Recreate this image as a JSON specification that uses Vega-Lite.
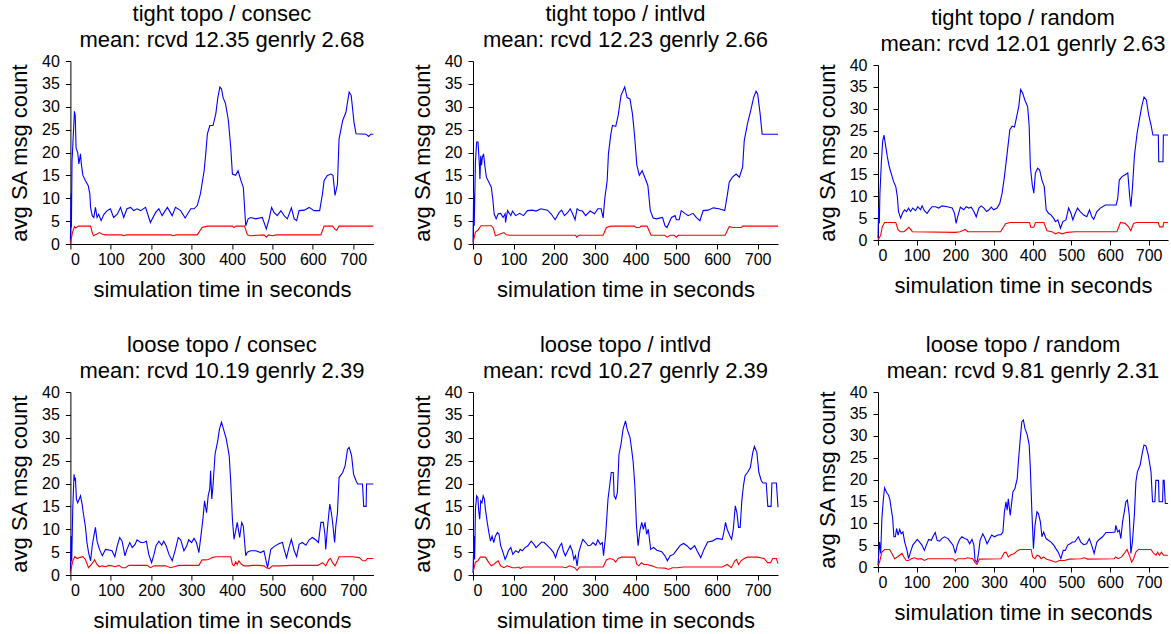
{
"$schema":"https://vega.github.io/schema/vega-lite/v6.json",
"padding":{"left":8,"top":3,"right":5,"bottom":5},
"columns":3,
"align":"each",
"spacing":{"row":34,"column":35},
"center":true,
"config":{
 "view":{"stroke":null},
 "font":"Liberation Sans",
 "title":{"fontSize":22,"fontWeight":"normal","color":"black","lineHeight":26,"offset":1,"frame":"group","anchor":"middle","font":"Liberation Sans"},
 "axis":{"grid":false,"domainColor":"black","tickColor":"black","labelColor":"black","titleColor":"black","labelFontSize":16,"titleFontSize":22,"titleFontWeight":"normal","tickSize":5,"domainWidth":1,"tickWidth":1,"labelFont":"Liberation Sans","titleFont":"Liberation Sans"},
 "axisX":{"labelPadding":2,"titlePadding":12},
 "axisY":{"labelPadding":6,"titlePadding":10}
},
"datasets":{
"p1r":[{"t":0,"v":0.5},{"t":1.5,"v":11},{"t":2.5,"v":3.6},{"t":4,"v":18},{"t":10,"v":29},{"t":12,"v":28},{"t":14,"v":21},{"t":18,"v":20},{"t":21,"v":17.5},{"t":25,"v":19.7},{"t":27,"v":17.5},{"t":31,"v":15},{"t":37,"v":13.9},{"t":44,"v":12.8},{"t":48,"v":11},{"t":50,"v":8},{"t":54,"v":6.2},{"t":58,"v":5.8},{"t":62,"v":8},{"t":66,"v":5.8},{"t":70,"v":6.5},{"t":76,"v":5.1},{"t":83,"v":6.5},{"t":91,"v":7.3},{"t":99,"v":7.7},{"t":107,"v":5.8},{"t":116,"v":6.5},{"t":124,"v":8},{"t":132,"v":5.8},{"t":140,"v":7.7},{"t":149,"v":8},{"t":157,"v":7.3},{"t":165,"v":7.7},{"t":174,"v":7.3},{"t":186,"v":8},{"t":198,"v":4.7},{"t":211,"v":6.9},{"t":219,"v":7.7},{"t":227,"v":6.2},{"t":240,"v":8},{"t":252,"v":6.2},{"t":260,"v":8},{"t":273,"v":7.3},{"t":284,"v":5.7},{"t":298,"v":7.7},{"t":306,"v":7.7},{"t":314,"v":8.4},{"t":322,"v":11},{"t":331,"v":16},{"t":335,"v":19.7},{"t":339,"v":24},{"t":345,"v":25.9},{"t":353,"v":25.9},{"t":360,"v":28.5},{"t":365,"v":32},{"t":370,"v":34.3},{"t":374,"v":33.9},{"t":378,"v":32},{"t":384,"v":30.7},{"t":391,"v":27},{"t":397,"v":21},{"t":401,"v":15.3},{"t":409,"v":15},{"t":415,"v":16},{"t":422,"v":13.9},{"t":428,"v":12.4},{"t":434,"v":4},{"t":440,"v":5.5},{"t":446,"v":5.8},{"t":459,"v":5.5},{"t":475,"v":5.8},{"t":485,"v":3.3},{"t":492,"v":5.5},{"t":498,"v":8},{"t":504,"v":6.9},{"t":512,"v":6.2},{"t":521,"v":7.3},{"t":529,"v":6.2},{"t":537,"v":5.5},{"t":547,"v":7.9},{"t":554,"v":5.5},{"t":560,"v":5.1},{"t":566,"v":7.3},{"t":579,"v":7.4},{"t":591,"v":8},{"t":603,"v":7.3},{"t":617,"v":7.3},{"t":624,"v":11},{"t":628,"v":13.9},{"t":636,"v":15},{"t":645,"v":15.3},{"t":650,"v":15},{"t":655,"v":10.6},{"t":661,"v":13.1},{"t":665,"v":23},{"t":674,"v":27},{"t":682,"v":28.8},{"t":690,"v":33.2},{"t":695,"v":32.5},{"t":702,"v":26.6},{"t":707,"v":24.1},{"t":732,"v":24},{"t":738,"v":23.5},{"t":744,"v":24},{"t":750,"v":24}],
"p1g":[{"t":0,"v":0},{"t":5,"v":2.5},{"t":10,"v":3.8},{"t":13,"v":3.5},{"t":20,"v":3.9},{"t":50,"v":3.9},{"t":54,"v":2.5},{"t":57,"v":1.8},{"t":66,"v":2.2},{"t":72,"v":2.5},{"t":78,"v":2.2},{"t":87,"v":2},{"t":128,"v":2},{"t":130,"v":1.8},{"t":140,"v":2},{"t":250,"v":2},{"t":252,"v":1.8},{"t":262,"v":2},{"t":314,"v":2},{"t":326,"v":3.6},{"t":339,"v":3.9},{"t":401,"v":3.9},{"t":405,"v":3.6},{"t":410,"v":3.9},{"t":431,"v":3.9},{"t":438,"v":2},{"t":445,"v":1.8},{"t":479,"v":2},{"t":485,"v":1.5},{"t":490,"v":2},{"t":500,"v":1.8},{"t":510,"v":2},{"t":620,"v":2},{"t":628,"v":3.9},{"t":649,"v":3.9},{"t":655,"v":3.2},{"t":659,"v":3},{"t":665,"v":3.9},{"t":750,"v":3.9}],
"p2r":[{"t":0,"v":0.4},{"t":1.5,"v":11},{"t":3,"v":4},{"t":6,"v":18},{"t":9,"v":22.3},{"t":12.4,"v":22.3},{"t":16,"v":16.8},{"t":17,"v":14.2},{"t":19,"v":19.3},{"t":21,"v":17.2},{"t":23,"v":19},{"t":26,"v":19.7},{"t":29,"v":17.2},{"t":33,"v":14.6},{"t":39,"v":13.5},{"t":45,"v":12.4},{"t":49,"v":9.5},{"t":52,"v":6.6},{"t":57,"v":5.5},{"t":62,"v":6.6},{"t":68,"v":6.7},{"t":74,"v":5.8},{"t":79,"v":6.6},{"t":80,"v":4.7},{"t":85,"v":7.3},{"t":93,"v":6.2},{"t":97,"v":7.2},{"t":105,"v":6.2},{"t":115,"v":6.7},{"t":124,"v":6.2},{"t":134,"v":7.3},{"t":146,"v":7.4},{"t":155,"v":7.2},{"t":167,"v":7.7},{"t":183,"v":7.4},{"t":192,"v":6.6},{"t":202,"v":5.3},{"t":212,"v":6.9},{"t":218,"v":7.4},{"t":225,"v":6.2},{"t":233,"v":6.9},{"t":239,"v":7.7},{"t":245,"v":6.6},{"t":251,"v":5.3},{"t":256,"v":7.7},{"t":262,"v":7.3},{"t":269,"v":7.2},{"t":277,"v":6.2},{"t":288,"v":7.2},{"t":299,"v":6.6},{"t":307,"v":7.7},{"t":315,"v":7.7},{"t":320,"v":5.7},{"t":324,"v":9.9},{"t":330,"v":13.9},{"t":333,"v":19.7},{"t":339,"v":24},{"t":343,"v":25.9},{"t":351,"v":25.7},{"t":357,"v":28.1},{"t":364,"v":32.5},{"t":373,"v":34.3},{"t":379,"v":32},{"t":386,"v":31.7},{"t":392,"v":28.5},{"t":397,"v":24},{"t":403,"v":17.2},{"t":409,"v":15},{"t":416,"v":16},{"t":424,"v":14.2},{"t":430,"v":12.8},{"t":436,"v":7.3},{"t":443,"v":5.7},{"t":451,"v":5.5},{"t":466,"v":5.8},{"t":472,"v":4},{"t":477,"v":3.6},{"t":488,"v":5.8},{"t":497,"v":6.2},{"t":500,"v":5.3},{"t":507,"v":5.3},{"t":512,"v":7.3},{"t":521,"v":6.7},{"t":529,"v":6.2},{"t":541,"v":6.7},{"t":549,"v":5.8},{"t":558,"v":5.1},{"t":566,"v":7.3},{"t":578,"v":7.4},{"t":591,"v":7.9},{"t":605,"v":7.7},{"t":619,"v":7.3},{"t":626,"v":11},{"t":630,"v":13.5},{"t":638,"v":14.6},{"t":647,"v":15.3},{"t":655,"v":14.6},{"t":663,"v":16.8},{"t":667,"v":22.6},{"t":675,"v":26.3},{"t":683,"v":29.2},{"t":690,"v":32},{"t":696,"v":33.4},{"t":700,"v":32.8},{"t":706,"v":28.5},{"t":711,"v":24},{"t":750,"v":24}],
"p2g":[{"t":0,"v":0},{"t":3,"v":1.5},{"t":6,"v":2.6},{"t":12,"v":3},{"t":18,"v":3.8},{"t":20,"v":4},{"t":45,"v":4},{"t":50,"v":3.5},{"t":55,"v":1.8},{"t":62,"v":2},{"t":70,"v":2.3},{"t":76,"v":2.5},{"t":82,"v":2},{"t":90,"v":1.9},{"t":252,"v":1.9},{"t":255,"v":1.5},{"t":260,"v":1.9},{"t":320,"v":1.9},{"t":328,"v":3.6},{"t":340,"v":3.9},{"t":397,"v":3.9},{"t":401,"v":3.6},{"t":410,"v":3.6},{"t":413,"v":3.9},{"t":428,"v":3.9},{"t":438,"v":1.9},{"t":471,"v":1.9},{"t":477,"v":1.5},{"t":485,"v":1.9},{"t":495,"v":1.9},{"t":500,"v":1.5},{"t":505,"v":1.9},{"t":620,"v":1.9},{"t":630,"v":3.8},{"t":640,"v":3.6},{"t":660,"v":3.6},{"t":663,"v":3.9},{"t":750,"v":3.9}],
"p3r":[{"t":0,"v":0.4},{"t":1.7,"v":7.3},{"t":3.4,"v":3.8},{"t":5,"v":10.7},{"t":8.6,"v":17.6},{"t":12,"v":22.5},{"t":15.5,"v":24},{"t":20,"v":21.4},{"t":24,"v":19.1},{"t":29,"v":16.8},{"t":34,"v":15.3},{"t":40,"v":13.4},{"t":46,"v":12.2},{"t":50,"v":9.9},{"t":53,"v":6.5},{"t":58.5,"v":5},{"t":64,"v":6.3},{"t":69,"v":6.9},{"t":74,"v":6.5},{"t":79,"v":7.3},{"t":84,"v":6.5},{"t":90,"v":7.3},{"t":97,"v":6.7},{"t":103,"v":7.6},{"t":110,"v":6.9},{"t":114,"v":7.8},{"t":120,"v":6.7},{"t":127,"v":6.1},{"t":134,"v":7},{"t":140,"v":7.6},{"t":149,"v":7.6},{"t":157,"v":7.3},{"t":166,"v":7.8},{"t":179,"v":7.6},{"t":192,"v":7.3},{"t":198,"v":6.1},{"t":202,"v":3.8},{"t":206,"v":5.3},{"t":213,"v":7.5},{"t":222,"v":6.9},{"t":228,"v":7.6},{"t":235,"v":7.3},{"t":241,"v":7.5},{"t":248,"v":6.5},{"t":254,"v":5.3},{"t":261,"v":7.3},{"t":267,"v":7.8},{"t":274,"v":7.3},{"t":281,"v":6.5},{"t":287,"v":6.9},{"t":293,"v":7.5},{"t":299,"v":6.9},{"t":308,"v":7.3},{"t":315,"v":8.4},{"t":321,"v":10.7},{"t":327,"v":14.5},{"t":334,"v":19.8},{"t":341,"v":25.2},{"t":347,"v":26},{"t":353,"v":25.8},{"t":358,"v":27.9},{"t":364,"v":30.5},{"t":369,"v":34.4},{"t":374,"v":33.6},{"t":381,"v":31.7},{"t":387,"v":30.5},{"t":391,"v":26},{"t":394,"v":16.8},{"t":399,"v":12.6},{"t":403,"v":10.7},{"t":407,"v":15.3},{"t":413,"v":16.4},{"t":418,"v":16},{"t":424,"v":13.7},{"t":430,"v":12.2},{"t":435,"v":6.9},{"t":441,"v":6.1},{"t":448,"v":5.7},{"t":454,"v":5},{"t":459,"v":4.2},{"t":465,"v":4.6},{"t":472,"v":2.7},{"t":478,"v":4.2},{"t":486,"v":4.6},{"t":493,"v":7.3},{"t":499,"v":6.1},{"t":504,"v":4.6},{"t":510,"v":6.1},{"t":516,"v":7.3},{"t":523,"v":6.5},{"t":532,"v":5.7},{"t":540,"v":5.3},{"t":547,"v":6.9},{"t":553,"v":5.3},{"t":558,"v":4.7},{"t":566,"v":6.5},{"t":575,"v":7.3},{"t":588,"v":8},{"t":601,"v":8},{"t":616,"v":8},{"t":620,"v":9.5},{"t":624,"v":13.7},{"t":631,"v":14.5},{"t":639,"v":14.9},{"t":646,"v":15.3},{"t":651,"v":9.9},{"t":654,"v":7.6},{"t":658,"v":11.8},{"t":663,"v":19.1},{"t":670,"v":24.4},{"t":676,"v":27.5},{"t":682,"v":30.5},{"t":688,"v":32.7},{"t":694,"v":32},{"t":700,"v":28.6},{"t":706,"v":26.3},{"t":711,"v":24},{"t":725,"v":24},{"t":726,"v":17.9},{"t":737,"v":17.9},{"t":738,"v":24},{"t":750,"v":24}],
"p3g":[{"t":0,"v":0},{"t":7,"v":1.1},{"t":11,"v":3},{"t":17,"v":4},{"t":46,"v":4},{"t":52,"v":2.3},{"t":58,"v":1.9},{"t":67,"v":1.9},{"t":74,"v":2.4},{"t":80,"v":2.9},{"t":89,"v":1.9},{"t":200,"v":1.75},{"t":212,"v":1.9},{"t":226,"v":2.4},{"t":232,"v":1.9},{"t":317,"v":1.9},{"t":330,"v":3.7},{"t":342,"v":4},{"t":392,"v":4},{"t":395,"v":2.9},{"t":403,"v":2.9},{"t":407,"v":4},{"t":429,"v":4},{"t":437,"v":2.1},{"t":450,"v":1.9},{"t":459,"v":1.4},{"t":467,"v":1.7},{"t":476,"v":1.4},{"t":489,"v":1.75},{"t":510,"v":1.9},{"t":618,"v":1.9},{"t":627,"v":4},{"t":639,"v":3.8},{"t":648,"v":3},{"t":654,"v":2.1},{"t":661,"v":3.8},{"t":668,"v":4},{"t":725,"v":4},{"t":728,"v":3},{"t":737,"v":3},{"t":739,"v":4},{"t":750,"v":4}],
"p4r":[{"t":0,"v":0.5},{"t":1.7,"v":8.5},{"t":3.3,"v":3.1},{"t":5.8,"v":14.4},{"t":9,"v":22},{"t":10.7,"v":20.6},{"t":12.4,"v":21.3},{"t":14.9,"v":16.6},{"t":18,"v":15.8},{"t":22,"v":16.6},{"t":25,"v":17.3},{"t":29,"v":15.5},{"t":33,"v":12.9},{"t":37,"v":10.7},{"t":41,"v":7.1},{"t":45,"v":4.9},{"t":50,"v":3.1},{"t":54,"v":6.4},{"t":58,"v":8.5},{"t":62,"v":10.4},{"t":66,"v":7.4},{"t":72,"v":5.6},{"t":79,"v":4.2},{"t":83,"v":4.9},{"t":87,"v":5.6},{"t":93,"v":5.5},{"t":103,"v":5.3},{"t":110,"v":4},{"t":116,"v":6.4},{"t":122,"v":8.2},{"t":128,"v":7.4},{"t":135,"v":4.2},{"t":140,"v":5.6},{"t":147,"v":7.1},{"t":153,"v":6},{"t":160,"v":6.7},{"t":165,"v":7.7},{"t":174,"v":7.1},{"t":182,"v":7.1},{"t":188,"v":7.4},{"t":194,"v":4.5},{"t":201,"v":2.7},{"t":207,"v":4.5},{"t":212,"v":6.4},{"t":219,"v":7.4},{"t":226,"v":6.5},{"t":231,"v":7.4},{"t":237,"v":6.4},{"t":244,"v":4.5},{"t":252,"v":3.1},{"t":260,"v":5.6},{"t":267,"v":8.2},{"t":273,"v":7.7},{"t":281,"v":5.3},{"t":288,"v":6.4},{"t":293,"v":7.7},{"t":300,"v":7.1},{"t":306,"v":8},{"t":312,"v":7.1},{"t":318,"v":4.9},{"t":322,"v":7.8},{"t":328,"v":12.2},{"t":332,"v":16.2},{"t":337,"v":13.6},{"t":341,"v":17.3},{"t":345,"v":18.8},{"t":347,"v":22.8},{"t":350,"v":16.6},{"t":353,"v":19.5},{"t":358,"v":26.4},{"t":364,"v":29},{"t":369,"v":31.9},{"t":374,"v":33.4},{"t":379,"v":31.9},{"t":386,"v":29.7},{"t":393,"v":26.1},{"t":397,"v":20.2},{"t":401,"v":12.2},{"t":405,"v":7.8},{"t":409,"v":9.6},{"t":413,"v":11.5},{"t":419,"v":8.2},{"t":424,"v":11.5},{"t":428,"v":10.7},{"t":434,"v":4.2},{"t":438,"v":5},{"t":446,"v":5.3},{"t":459,"v":5.3},{"t":471,"v":4.9},{"t":479,"v":5.3},{"t":488,"v":1.6},{"t":496,"v":5.6},{"t":504,"v":6.2},{"t":517,"v":6.9},{"t":525,"v":7.1},{"t":529,"v":5.6},{"t":535,"v":3.8},{"t":541,"v":6},{"t":547,"v":7.8},{"t":554,"v":5.3},{"t":560,"v":4},{"t":566,"v":6.7},{"t":574,"v":7.1},{"t":583,"v":6.5},{"t":591,"v":7.7},{"t":599,"v":8.2},{"t":607,"v":7.7},{"t":614,"v":7.1},{"t":620,"v":11.5},{"t":626,"v":11.5},{"t":630,"v":8.9},{"t":632,"v":5.6},{"t":636,"v":10},{"t":642,"v":15.5},{"t":646,"v":13.6},{"t":650,"v":10.7},{"t":654,"v":7.1},{"t":657,"v":10.7},{"t":661,"v":13.6},{"t":665,"v":21.3},{"t":674,"v":22.4},{"t":680,"v":23.9},{"t":686,"v":27.5},{"t":690,"v":27.9},{"t":696,"v":26.1},{"t":701,"v":22},{"t":707,"v":20.6},{"t":711,"v":19.9},{"t":723,"v":19.9},{"t":726,"v":15},{"t":732,"v":15},{"t":733,"v":19.9},{"t":750,"v":19.9}],
"p4g":[{"t":0,"v":0.5},{"t":6,"v":3.1},{"t":11,"v":4},{"t":17,"v":3.6},{"t":22,"v":3.8},{"t":31,"v":4},{"t":37,"v":3.4},{"t":45,"v":1.6},{"t":52,"v":2.3},{"t":60,"v":3.3},{"t":66,"v":2.3},{"t":72,"v":1.8},{"t":79,"v":2},{"t":87,"v":1.8},{"t":95,"v":2.1},{"t":103,"v":2},{"t":110,"v":1.8},{"t":120,"v":2.1},{"t":128,"v":1.6},{"t":136,"v":1.6},{"t":145,"v":2.1},{"t":190,"v":2.1},{"t":198,"v":1.6},{"t":207,"v":2},{"t":236,"v":2},{"t":248,"v":1.6},{"t":256,"v":1.8},{"t":269,"v":2.1},{"t":318,"v":2.1},{"t":326,"v":3.3},{"t":335,"v":3.3},{"t":341,"v":3.4},{"t":347,"v":3.6},{"t":351,"v":3.8},{"t":360,"v":4},{"t":397,"v":4},{"t":401,"v":2.3},{"t":405,"v":2},{"t":409,"v":2.9},{"t":413,"v":2.3},{"t":417,"v":3.1},{"t":424,"v":2.3},{"t":430,"v":2},{"t":442,"v":2},{"t":450,"v":2.1},{"t":467,"v":2.1},{"t":479,"v":2},{"t":485,"v":1.6},{"t":492,"v":1.4},{"t":500,"v":2},{"t":517,"v":2},{"t":550,"v":2.1},{"t":612,"v":2.1},{"t":624,"v":2.7},{"t":632,"v":2},{"t":640,"v":3.4},{"t":644,"v":3.6},{"t":649,"v":2.7},{"t":655,"v":2},{"t":661,"v":3.1},{"t":665,"v":4},{"t":698,"v":4},{"t":715,"v":3.8},{"t":724,"v":3.1},{"t":731,"v":3.1},{"t":735,"v":3.6},{"t":750,"v":3.6}],
"p5r":[{"t":0,"v":0.5},{"t":2.5,"v":8.5},{"t":4,"v":3.4},{"t":6,"v":14.4},{"t":9,"v":17.3},{"t":12,"v":16.9},{"t":14,"v":14},{"t":16.5,"v":12.2},{"t":19,"v":16.2},{"t":22,"v":15.8},{"t":25,"v":17.3},{"t":28,"v":16.6},{"t":30.5,"v":14.4},{"t":35,"v":11.5},{"t":39,"v":9.3},{"t":43,"v":7.4},{"t":47,"v":8.5},{"t":51,"v":7.1},{"t":55,"v":8.5},{"t":60,"v":9.3},{"t":64,"v":8.9},{"t":68,"v":6.4},{"t":74,"v":4.9},{"t":79,"v":3.4},{"t":83,"v":4.2},{"t":87,"v":5.3},{"t":93,"v":6},{"t":98,"v":4.5},{"t":105,"v":5.3},{"t":112,"v":4.9},{"t":116,"v":5.6},{"t":121,"v":5.3},{"t":128,"v":6},{"t":135,"v":6.4},{"t":143,"v":7.4},{"t":150,"v":6.7},{"t":155,"v":6},{"t":163,"v":6.7},{"t":169,"v":7.2},{"t":175,"v":7.1},{"t":183,"v":6.4},{"t":192,"v":5.6},{"t":198,"v":4.9},{"t":203,"v":3.8},{"t":208,"v":5.3},{"t":214,"v":6.4},{"t":218,"v":6.9},{"t":222,"v":5.3},{"t":227,"v":4.2},{"t":233,"v":5.3},{"t":239,"v":6.4},{"t":244,"v":5.3},{"t":248,"v":3.4},{"t":252,"v":4.2},{"t":256,"v":2},{"t":260,"v":4.9},{"t":266,"v":6.7},{"t":270,"v":7.8},{"t":277,"v":7.1},{"t":283,"v":6.4},{"t":289,"v":6.5},{"t":295,"v":7.1},{"t":302,"v":6.5},{"t":307,"v":7.7},{"t":313,"v":6.7},{"t":318,"v":7.1},{"t":321,"v":4.2},{"t":326,"v":8.5},{"t":332,"v":16.6},{"t":336,"v":19.5},{"t":340,"v":22.4},{"t":345,"v":22.4},{"t":347,"v":17.3},{"t":351,"v":16.6},{"t":355,"v":18},{"t":359,"v":26.4},{"t":364,"v":28.6},{"t":369,"v":31.9},{"t":375,"v":33.7},{"t":379,"v":31.9},{"t":386,"v":30.1},{"t":390,"v":27.5},{"t":394,"v":24.6},{"t":398,"v":19.5},{"t":402,"v":10.7},{"t":406,"v":6.4},{"t":411,"v":10},{"t":415,"v":11.5},{"t":419,"v":10},{"t":423,"v":11.5},{"t":427,"v":8.9},{"t":431,"v":10},{"t":437,"v":5.6},{"t":444,"v":6},{"t":452,"v":5.4},{"t":464,"v":5.1},{"t":472,"v":4.2},{"t":478,"v":3.1},{"t":485,"v":4.2},{"t":493,"v":4.5},{"t":502,"v":5.6},{"t":510,"v":6.5},{"t":518,"v":6.9},{"t":526,"v":6.4},{"t":535,"v":5.6},{"t":545,"v":6.4},{"t":551,"v":5.3},{"t":560,"v":3.8},{"t":568,"v":5.6},{"t":577,"v":7.2},{"t":588,"v":7.4},{"t":600,"v":8},{"t":613,"v":7.8},{"t":617,"v":9.4},{"t":621,"v":11.5},{"t":625,"v":10},{"t":631,"v":8.7},{"t":636,"v":7.8},{"t":640,"v":10},{"t":645,"v":15.1},{"t":649,"v":13.6},{"t":653,"v":10.4},{"t":657,"v":10.4},{"t":661,"v":16.2},{"t":665,"v":19.5},{"t":669,"v":21.7},{"t":675,"v":22.4},{"t":682,"v":23.5},{"t":688,"v":26.8},{"t":692,"v":28.1},{"t":698,"v":26.8},{"t":703,"v":22.4},{"t":709,"v":20.6},{"t":713,"v":20.1},{"t":721,"v":20.1},{"t":725,"v":15},{"t":733,"v":15},{"t":735,"v":20.1},{"t":746,"v":20.1},{"t":750,"v":14.8}],
"p5g":[{"t":0,"v":0.5},{"t":6,"v":2.8},{"t":12,"v":3.1},{"t":18,"v":3.9},{"t":30.5,"v":3.9},{"t":39,"v":2.7},{"t":45,"v":2},{"t":51,"v":2.3},{"t":57,"v":2.8},{"t":62,"v":3.1},{"t":68,"v":2},{"t":76,"v":1.6},{"t":84,"v":2},{"t":97,"v":1.6},{"t":105,"v":1.6},{"t":113,"v":1.75},{"t":116,"v":1.4},{"t":124,"v":1.75},{"t":220,"v":1.75},{"t":229,"v":1.6},{"t":237,"v":2},{"t":250,"v":1.6},{"t":256,"v":1},{"t":262,"v":1.75},{"t":320,"v":1.75},{"t":328,"v":3.3},{"t":336,"v":3.6},{"t":345,"v":3.4},{"t":351,"v":2.8},{"t":357,"v":3.6},{"t":365,"v":3.9},{"t":398,"v":3.9},{"t":403,"v":2.3},{"t":408,"v":2},{"t":414,"v":2.7},{"t":420,"v":2.3},{"t":428,"v":2.3},{"t":440,"v":2},{"t":452,"v":1.6},{"t":472,"v":1.5},{"t":481,"v":1.2},{"t":490,"v":1.6},{"t":502,"v":1.6},{"t":518,"v":1.75},{"t":613,"v":1.75},{"t":625,"v":2.3},{"t":635,"v":1.6},{"t":644,"v":3.1},{"t":648,"v":3.4},{"t":653,"v":2.3},{"t":659,"v":3.1},{"t":667,"v":3.6},{"t":675,"v":3.9},{"t":700,"v":3.9},{"t":716,"v":3.6},{"t":724,"v":2.7},{"t":732,"v":2.7},{"t":737,"v":3.6},{"t":746,"v":3.6},{"t":750,"v":2.5}],
"p6r":[{"t":0,"v":0.4},{"t":1.7,"v":2.7},{"t":4,"v":5.7},{"t":7,"v":3.1},{"t":10,"v":11.1},{"t":14,"v":15.6},{"t":17,"v":18.1},{"t":21.5,"v":17.2},{"t":24,"v":16.8},{"t":27.5,"v":16.4},{"t":31,"v":15.3},{"t":34,"v":13.4},{"t":38,"v":11.1},{"t":41,"v":6.9},{"t":45,"v":6.9},{"t":48,"v":8.8},{"t":52,"v":7.3},{"t":56,"v":8.6},{"t":60,"v":7.6},{"t":64.5,"v":8},{"t":69,"v":5.7},{"t":75,"v":3.8},{"t":79,"v":1.9},{"t":84,"v":3.4},{"t":90,"v":5},{"t":96,"v":5.7},{"t":101.5,"v":6.3},{"t":107.6,"v":5.7},{"t":113.6,"v":5},{"t":120,"v":3.8},{"t":125,"v":5},{"t":131,"v":6.3},{"t":138,"v":6.1},{"t":142,"v":6.9},{"t":148,"v":7.9},{"t":153,"v":6.1},{"t":159,"v":5.9},{"t":165,"v":6.5},{"t":172,"v":6.9},{"t":181,"v":6.5},{"t":188,"v":5.7},{"t":194,"v":5},{"t":200,"v":3.1},{"t":205,"v":5},{"t":211,"v":6.3},{"t":217,"v":6.9},{"t":224,"v":6.5},{"t":231,"v":6.3},{"t":237,"v":5.3},{"t":243,"v":6.3},{"t":248,"v":5},{"t":251,"v":1.5},{"t":256,"v":1.1},{"t":260,"v":3.1},{"t":264,"v":6.1},{"t":271,"v":7.6},{"t":277,"v":6.5},{"t":282,"v":5.3},{"t":288,"v":6.3},{"t":294,"v":7.3},{"t":301,"v":6.9},{"t":310,"v":7.3},{"t":318,"v":7.4},{"t":323,"v":8},{"t":327,"v":12.6},{"t":331,"v":14.9},{"t":334,"v":13},{"t":337,"v":15.6},{"t":342,"v":11.8},{"t":344,"v":13.4},{"t":349,"v":17.2},{"t":354,"v":17.9},{"t":360,"v":20.2},{"t":363,"v":24},{"t":368,"v":29.4},{"t":372,"v":33.2},{"t":376,"v":33.6},{"t":380,"v":31.7},{"t":386,"v":30.2},{"t":391,"v":27.9},{"t":394,"v":22.5},{"t":398,"v":12.6},{"t":402,"v":4.2},{"t":406,"v":9.5},{"t":411,"v":12.6},{"t":415,"v":12.2},{"t":420,"v":10.3},{"t":424,"v":6.9},{"t":428.6,"v":8},{"t":434.6,"v":6.5},{"t":440.6,"v":6.1},{"t":447.5,"v":5.7},{"t":454.4,"v":5},{"t":460,"v":4.2},{"t":466,"v":3.4},{"t":473,"v":1.9},{"t":479,"v":3.8},{"t":484.5,"v":3.8},{"t":490.5,"v":5},{"t":497,"v":5.3},{"t":503,"v":5.7},{"t":509,"v":5.7},{"t":518,"v":6.9},{"t":524.6,"v":5.7},{"t":532,"v":5.1},{"t":539.6,"v":5.3},{"t":546.5,"v":6.5},{"t":552.5,"v":5},{"t":559,"v":3.1},{"t":566,"v":5.7},{"t":572,"v":6.3},{"t":581,"v":6.9},{"t":589.5,"v":7.9},{"t":602,"v":7.9},{"t":613,"v":8},{"t":615,"v":9.5},{"t":620,"v":8},{"t":624,"v":8.4},{"t":628,"v":6.5},{"t":632.5,"v":10.3},{"t":637,"v":12.6},{"t":641,"v":14.9},{"t":645,"v":15.3},{"t":650,"v":11.8},{"t":654,"v":3.1},{"t":658,"v":5.7},{"t":663,"v":11.8},{"t":667,"v":19.5},{"t":671,"v":21.8},{"t":678,"v":23.3},{"t":684,"v":26.3},{"t":688,"v":27.9},{"t":693,"v":27.7},{"t":699,"v":25.6},{"t":706,"v":21.8},{"t":710,"v":14.9},{"t":716,"v":14.9},{"t":718.6,"v":19.8},{"t":725.5,"v":19.8},{"t":727,"v":14.9},{"t":736,"v":14.9},{"t":737.5,"v":19.8},{"t":740,"v":19.8},{"t":743,"v":14.5},{"t":750,"v":14.5}],
"p6g":[{"t":0,"v":0.4},{"t":4,"v":1.1},{"t":10,"v":3.4},{"t":17,"v":4},{"t":30,"v":4},{"t":36,"v":3.1},{"t":43,"v":1.9},{"t":50,"v":2.3},{"t":56,"v":2.7},{"t":62,"v":3.1},{"t":67,"v":2.3},{"t":73,"v":1.5},{"t":79,"v":1.5},{"t":86,"v":1.9},{"t":95,"v":2.1},{"t":103,"v":1.8},{"t":112,"v":1.9},{"t":120,"v":1.5},{"t":129,"v":1.9},{"t":194,"v":1.9},{"t":200,"v":1.4},{"t":206,"v":1.9},{"t":224,"v":1.9},{"t":232,"v":2.1},{"t":245,"v":1.9},{"t":251,"v":1},{"t":256,"v":0.6},{"t":262,"v":1.8},{"t":318,"v":1.9},{"t":327,"v":3.3},{"t":331,"v":3.4},{"t":337,"v":2.3},{"t":344,"v":2.8},{"t":353,"v":3.1},{"t":361,"v":3.8},{"t":368,"v":4},{"t":396,"v":4},{"t":400,"v":2.3},{"t":406,"v":1.9},{"t":411,"v":2.7},{"t":417,"v":2.5},{"t":422,"v":1.9},{"t":428.6,"v":2.3},{"t":434.6,"v":1.8},{"t":447.5,"v":1.5},{"t":460,"v":1.1},{"t":469,"v":1.5},{"t":482,"v":1.5},{"t":495,"v":1.8},{"t":525,"v":1.9},{"t":533.6,"v":2.1},{"t":542,"v":1.8},{"t":611,"v":1.9},{"t":615,"v":2.3},{"t":621,"v":1.9},{"t":630,"v":2.3},{"t":637,"v":3.1},{"t":644,"v":4},{"t":650,"v":2.7},{"t":656,"v":1.1},{"t":661,"v":1.9},{"t":667,"v":3.4},{"t":673,"v":4},{"t":706,"v":4},{"t":713,"v":3.1},{"t":719,"v":2.7},{"t":723,"v":3.4},{"t":728,"v":2.7},{"t":733,"v":3.4},{"t":738.5,"v":2.7},{"t":750,"v":2.7}]
},
"concat":[
{"width":303,"height":183,"title":{"text":["tight topo / consec","mean: rcvd 12.35 genrly 2.68"]},
 "encoding":{"x":{"field":"t","type":"quantitative","scale":{"domain":[0,750],"nice":false,"zero":false},"axis":{"values":[0,100,200,300,400,500,600,700],"title":"simulation time in seconds"}},"y":{"field":"v","type":"quantitative","scale":{"domain":[0,40],"nice":false},"axis":{"values":[0,5,10,15,20,25,30,35,40],"title":"avg SA msg count"}}},
 "layer":[{"data":{"name":"p1r"},"mark":{"type":"line","color":"#0000ff","strokeWidth":1.1}},{"data":{"name":"p1g"},"mark":{"type":"line","color":"#ff0000","strokeWidth":1.1}}]},
{"width":305,"height":183,"title":{"text":["tight topo / intlvd","mean: rcvd 12.23 genrly 2.66"]},
 "encoding":{"x":{"field":"t","type":"quantitative","scale":{"domain":[0,750],"nice":false,"zero":false},"axis":{"values":[0,100,200,300,400,500,600,700],"title":"simulation time in seconds"}},"y":{"field":"v","type":"quantitative","scale":{"domain":[0,40],"nice":false},"axis":{"values":[0,5,10,15,20,25,30,35,40],"title":"avg SA msg count"}}},
 "layer":[{"data":{"name":"p2r"},"mark":{"type":"line","color":"#0000ff","strokeWidth":1.1}},{"data":{"name":"p2g"},"mark":{"type":"line","color":"#ff0000","strokeWidth":1.1}}]},
{"width":290,"height":175,"title":{"text":["tight topo / random","mean: rcvd 12.01 genrly 2.63"]},
 "encoding":{"x":{"field":"t","type":"quantitative","scale":{"domain":[0,750],"nice":false,"zero":false},"axis":{"values":[0,100,200,300,400,500,600,700],"title":"simulation time in seconds"}},"y":{"field":"v","type":"quantitative","scale":{"domain":[0,40],"nice":false},"axis":{"values":[0,5,10,15,20,25,30,35,40],"title":"avg SA msg count"}}},
 "layer":[{"data":{"name":"p3r"},"mark":{"type":"line","color":"#0000ff","strokeWidth":1.1}},{"data":{"name":"p3g"},"mark":{"type":"line","color":"#ff0000","strokeWidth":1.1}}]},
{"width":303,"height":183,"title":{"text":["loose topo / consec","mean: rcvd 10.19 genrly 2.39"]},
 "encoding":{"x":{"field":"t","type":"quantitative","scale":{"domain":[0,750],"nice":false,"zero":false},"axis":{"values":[0,100,200,300,400,500,600,700],"title":"simulation time in seconds"}},"y":{"field":"v","type":"quantitative","scale":{"domain":[0,40],"nice":false},"axis":{"values":[0,5,10,15,20,25,30,35,40],"title":"avg SA msg count"}}},
 "layer":[{"data":{"name":"p4r"},"mark":{"type":"line","color":"#0000ff","strokeWidth":1.1}},{"data":{"name":"p4g"},"mark":{"type":"line","color":"#ff0000","strokeWidth":1.1}}]},
{"width":305,"height":183,"title":{"text":["loose topo / intlvd","mean: rcvd 10.27 genrly 2.39"]},
 "encoding":{"x":{"field":"t","type":"quantitative","scale":{"domain":[0,750],"nice":false,"zero":false},"axis":{"values":[0,100,200,300,400,500,600,700],"title":"simulation time in seconds"}},"y":{"field":"v","type":"quantitative","scale":{"domain":[0,40],"nice":false},"axis":{"values":[0,5,10,15,20,25,30,35,40],"title":"avg SA msg count"}}},
 "layer":[{"data":{"name":"p5r"},"mark":{"type":"line","color":"#0000ff","strokeWidth":1.1}},{"data":{"name":"p5g"},"mark":{"type":"line","color":"#ff0000","strokeWidth":1.1}}]},
{"width":290,"height":175,"title":{"text":["loose topo / random","mean: rcvd 9.81 genrly 2.31"]},
 "encoding":{"x":{"field":"t","type":"quantitative","scale":{"domain":[0,750],"nice":false,"zero":false},"axis":{"values":[0,100,200,300,400,500,600,700],"title":"simulation time in seconds"}},"y":{"field":"v","type":"quantitative","scale":{"domain":[0,40],"nice":false},"axis":{"values":[0,5,10,15,20,25,30,35,40],"title":"avg SA msg count"}}},
 "layer":[{"data":{"name":"p6r"},"mark":{"type":"line","color":"#0000ff","strokeWidth":1.1}},{"data":{"name":"p6g"},"mark":{"type":"line","color":"#ff0000","strokeWidth":1.1}}]}
]
}
